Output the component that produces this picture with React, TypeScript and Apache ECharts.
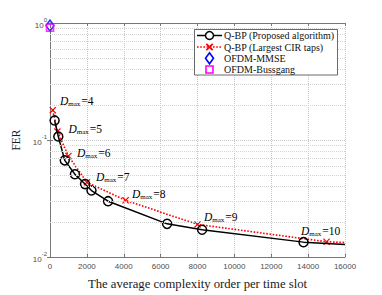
import React, { useEffect, useRef } from "react";
import * as echarts from "echarts";

const qbpX = [250, 450, 800, 1350, 1900, 2250, 3150, 6350, 8250, 13750, 16000];
const qbpY = [0.147, 0.107, 0.067, 0.051, 0.042, 0.037, 0.030, 0.0192, 0.0171, 0.0134, 0.0128];
const cirX = [150, 400, 1000, 2000, 4100, 8000, 15000, 16000];
const cirY = [0.18, 0.118, 0.073, 0.0435, 0.0305, 0.019, 0.0135, 0.0133];
const mmse: [number, number][] = [[0, 0.95]];
const bussgang: [number, number][] = [[0, 0.91]];
const minorY = [0.02, 0.03, 0.04, 0.05, 0.06, 0.07, 0.08, 0.09, 0.2, 0.3, 0.4, 0.5, 0.6, 0.7, 0.8, 0.9];
const legendNames = ["Q-BP (Proposed algorithm)", "Q-BP (Largest CIR taps)", "OFDM-MMSE", "OFDM-Bussgang"];
const dLabels = ["4", "5", "6", "7", "8", "9", "10"];
const dPos: [number, number][] = [[60, 100.5], [68.5, 128.5], [77, 152.5], [96, 176.5], [132, 193.5], [204, 216.5], [301, 230.5]];

const SERIF = "'Liberation Serif', 'DejaVu Serif', serif";
const SANS = "'Liberation Sans', Arial, sans-serif";
const CROSS = "path://M0,1.2L1.2,0L5,3.8L8.8,0L10,1.2L6.2,5L10,8.8L8.8,10L5,6.2L1.2,10L0,8.8L3.8,5Z";

function legendGraphics(): any[] {
  const left = 194.5, top = 29.5, right = 337.5, bottom = 75;
  const rows = [35.5, 47, 58.3, 69.5];
  const lx0 = 197, lx1 = 222, mx = 209.5, tx = 224;
  const g: any[] = [];
  g.push({ type: "rect", shape: { x: left, y: top, width: right - left, height: bottom - top }, style: { fill: "#fff", stroke: "#444", lineWidth: 0.8 }, z: 20 });
  g.push({ type: "line", shape: { x1: lx0, y1: rows[0], x2: lx1, y2: rows[0] }, style: { stroke: "#000", lineWidth: 1.5 }, z: 21 });
  g.push({ type: "circle", shape: { cx: mx, cy: rows[0], r: 4 }, style: { fill: "#fff", stroke: "#000", lineWidth: 1.5 }, z: 22 });
  g.push({ type: "line", shape: { x1: lx0, y1: rows[1], x2: lx1, y2: rows[1] }, style: { stroke: "#ff0000", lineWidth: 1.6, lineDash: [1.6, 1.6] }, z: 21 });
  g.push({ type: "line", shape: { x1: mx - 3.2, y1: rows[1] - 3.2, x2: mx + 3.2, y2: rows[1] + 3.2 }, style: { stroke: "#ff0000", lineWidth: 1.8 }, z: 22 });
  g.push({ type: "line", shape: { x1: mx - 3.2, y1: rows[1] + 3.2, x2: mx + 3.2, y2: rows[1] - 3.2 }, style: { stroke: "#ff0000", lineWidth: 1.8 }, z: 22 });
  g.push({ type: "polygon", shape: { points: [[mx, rows[2] - 5.5], [mx + 4, rows[2]], [mx, rows[2] + 5.5], [mx - 4, rows[2]]] }, style: { fill: "none", stroke: "#0000ff", lineWidth: 1.6 }, z: 22 });
  g.push({ type: "rect", shape: { x: mx - 3.5, y: rows[3] - 3.5, width: 7, height: 7 }, style: { fill: "none", stroke: "#ff00ff", lineWidth: 1.6 }, z: 22 });
  legendNames.forEach((n, i) => {
    g.push({ type: "text", x: tx, y: rows[i], z: 22, style: { text: n, fontFamily: SERIF, fontSize: 10, fill: "#111", verticalAlign: "middle", align: "left" } });
  });
  return g;
}

export default function App() {
  const ref = useRef<HTMLDivElement>(null);
  useEffect(() => {
    if (!ref.current) return;
    const chart = echarts.init(ref.current, undefined, { renderer: "svg" });
    const noSym = (i: number, n: number) => (i === n - 1 ? { symbol: "none" } : {});
    const option: any = {
      animation: false,
      backgroundColor: "#fff",
      grid: { left: 50, right: 37, top: 23, bottom: 34, containLabel: false },
      xAxis: [
        {
          type: "value",
          min: 0,
          max: 16000,
          interval: 2000,
          name: "The average complexity order per time slot",
          nameLocation: "middle",
          nameGap: 20,
          nameTextStyle: { fontFamily: SERIF, fontSize: 12.7, color: "#1a1a1a" },
          axisLine: { show: true, lineStyle: { color: "#777", width: 1 } },
          axisTick: { show: true, inside: true, length: 3, lineStyle: { color: "#777" } },
          axisLabel: { fontFamily: SANS, fontSize: 8, color: "#4d4d4d", margin: 5, formatter: (v: number) => String(v) },
          splitLine: { show: true, lineStyle: { type: "dotted", color: "#c8c8c8", width: 1 } },
        },
        {
          type: "value",
          position: "top",
          min: 0,
          max: 16000,
          interval: 2000,
          axisLine: { show: true, lineStyle: { color: "#777", width: 1 } },
          axisTick: { show: true, inside: true, length: 3, lineStyle: { color: "#777" } },
          axisLabel: { show: false },
          splitLine: { show: false },
        },
      ],
      yAxis: [
        {
          type: "log",
          logBase: 10,
          min: 0.01,
          max: 1,
          name: "FER",
          nameLocation: "middle",
          nameGap: 28,
          nameRotate: 90,
          nameTextStyle: { fontFamily: SERIF, fontSize: 11.5, color: "#1a1a1a" },
          axisLine: { show: true, lineStyle: { color: "#777", width: 1 } },
          axisTick: { show: true, inside: true, length: 3, lineStyle: { color: "#777" } },
          axisLabel: {
            margin: 3,
            formatter: (v: number) => `{b|10}{s|${Math.round(Math.log10(v))}}`,
            rich: {
              b: { fontFamily: SANS, fontSize: 8, color: "#4d4d4d", verticalAlign: "bottom", lineHeight: 12 },
              s: { fontFamily: SANS, fontSize: 6, color: "#4d4d4d", verticalAlign: "top", lineHeight: 12 },
            },
          },
          splitLine: { show: true, lineStyle: { type: "dotted", color: "#c8c8c8", width: 1 } },
        },
        {
          type: "log",
          logBase: 10,
          min: 0.01,
          max: 1,
          position: "right",
          axisLine: { show: true, lineStyle: { color: "#777", width: 1 } },
          axisTick: { show: true, inside: true, length: 3, lineStyle: { color: "#777" } },
          axisLabel: { show: false },
          splitLine: { show: false },
        },
      ],
      series: [
        {
          name: "minorGrid",
          type: "line",
          data: [],
          silent: true,
          markLine: {
            silent: true,
            symbol: "none",
            label: { show: false },
            lineStyle: { type: "dotted", color: "#d4d4d4", width: 1 },
            data: minorY.map((v) => ({ yAxis: v })),
          },
        },
        {
          name: legendNames[1],
          type: "line",
          data: cirX.map((x, i) => ({ value: [x, cirY[i]], ...noSym(i, cirX.length) })),
          symbol: CROSS,
          symbolSize: 7,
          itemStyle: { color: "#ff0000" },
          lineStyle: { color: "#ff0000", width: 1.6, type: [1.6, 1.6] },
          clip: true,
          z: 3,
        },
        {
          name: legendNames[0],
          type: "line",
          data: qbpX.map((x, i) => ({ value: [x, qbpY[i]], ...noSym(i, qbpX.length) })),
          symbol: "circle",
          symbolSize: 9,
          itemStyle: { color: "rgba(255,255,255,0)", borderColor: "#000", borderWidth: 1.5 },
          lineStyle: { color: "#000", width: 1.5 },
          clip: true,
          z: 4,
        },
        {
          name: legendNames[2],
          type: "scatter",
          data: mmse,
          symbol: "diamond",
          symbolSize: [8, 11],
          itemStyle: { color: "rgba(255,255,255,0)", borderColor: "#0000ff", borderWidth: 1.6 },
          clip: false,
          z: 5,
        },
        {
          name: legendNames[3],
          type: "scatter",
          data: bussgang,
          symbol: "rect",
          symbolSize: 7,
          itemStyle: { color: "rgba(255,255,255,0)", borderColor: "#ff00ff", borderWidth: 1.6 },
          clip: false,
          z: 6,
        },
      ],
      graphic: [
        ...legendGraphics(),
        ...dLabels.map((d, i) => ({
          type: "text",
          x: dPos[i][0],
          y: dPos[i][1],
          z: 10,
          style: {
            text: `{d|D}{m|max}{e|=${d}}`,
            verticalAlign: "middle",
            rich: {
              d: { fontFamily: SERIF, fontStyle: "italic", fontSize: 11.5, color: "#222", lineHeight: 14, verticalAlign: "middle" },
              m: { fontFamily: SERIF, fontSize: 7, color: "#222", lineHeight: 14, verticalAlign: "bottom" },
              e: { fontFamily: SERIF, fontSize: 11.5, color: "#222", lineHeight: 14, verticalAlign: "middle", padding: [0, 0, 0, 1] },
            },
          },
        })),
      ],
    };
    chart.setOption(option);
    return () => chart.dispose();
  }, []);
  return <div ref={ref} style={{ position: "fixed", left: 0, top: 0, width: 382, height: 295 }} />;
}
